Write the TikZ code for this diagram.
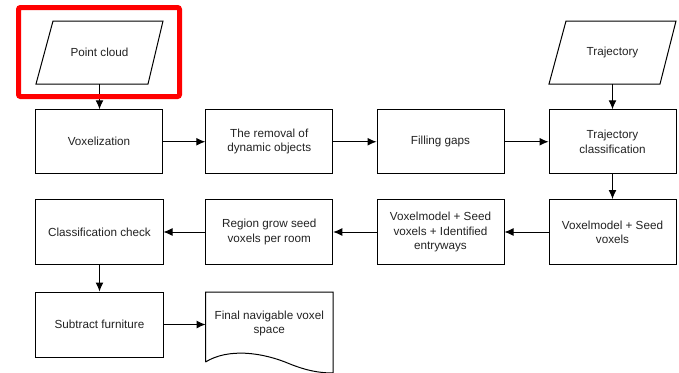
\documentclass[tikz,border=0pt]{standalone}
\usepackage{fontspec}
\setmainfont{Liberation Sans}
\usetikzlibrary{arrows.meta}
\definecolor{txt}{HTML}{222222}
\definecolor{hl}{HTML}{FF0000}
\tikzset{
  box/.style={draw, line width=1bp, minimum width=127bp, minimum height=64bp, inner sep=0pt, align=center, text=txt},
  lbl/.style={draw=none, minimum width=110bp, minimum height=63bp, inner sep=0pt, align=center, text=txt},
  shp/.style={draw, line width=1bp},
  conn/.style={line width=1bp, -{Latex[length=9bp,width=8bp]}},
}
\begin{document}
\begin{tikzpicture}[x=1bp, y=-1bp, font=\fontsize{11.7bp}{14.3bp}\selectfont]
\useasboundingbox (0,0) rectangle (679,372);
% input parallelograms
\draw[shp] (53,21) -- (163,21) -- (148,84) -- (36,84) -- cycle;
\node[lbl] (pc) at (99.5,52.5) {Point cloud};
\draw[shp] (566,21) -- (676,21) -- (660,84) -- (549,84) -- cycle;
\node[lbl] (traj) at (612.5,52.5) {Trajectory};
% row 1
\node[box] (vox) at (99,141.75) {Voxelization};
\node[box] (rem) at (269.25,141.75) {The removal of\\dynamic objects};
\node[box] (fill) at (440.5,141.75) {Filling gaps};
\node[box] (tcl) at (612.5,141.75) {Trajectory\\classification};
% row 2
\node[box, minimum height=65bp] (vs) at (612.5,232) {Voxelmodel + Seed\\voxels};
\node[box, minimum height=65bp] (vse) at (440.5,232) {Voxelmodel + Seed\\voxels + Identified\\entryways};
\node[box, minimum height=65bp] (rg) at (269.25,232) {Region grow seed\\voxels per room};
\node[box, minimum height=65bp] (cc) at (99.5,232) {Classification check};
% row 3
\node[box, minimum height=65bp] (sf) at (99.5,324.5) {Subtract furniture};
\node[lbl, minimum width=127bp, minimum height=65bp] (fin) at (269.25,324.5) {};
\draw[shp] (205.5,362) -- (205.5,292) -- (333,292) -- (333,373)
  .. controls (318,373) and (305,370) .. (290,364)
  .. controls (262,352) and (228,348) .. (205.5,362);
\node[text=txt, align=center] at (269.25,323.5) {Final navigable voxel\\space};
% connectors
\draw[conn] (pc.south) -- (pc.south |- vox.north);
\draw[conn] (vox) -- (rem);
\draw[conn] (rem) -- (fill);
\draw[conn] (fill) -- (tcl);
\draw[conn] (traj.south) -- (traj.south |- tcl.north);
\draw[conn] (tcl) -- (vs);
\draw[conn] (vs) -- (vse);
\draw[conn] (vse) -- (rg);
\draw[conn] (rg) -- (cc);
\draw[conn] (cc) -- (sf);
\draw[conn] (sf) -- (fin);
% highlight
\draw[hl, line width=5bp, rounded corners=2bp] (18.5,7.5) rectangle (179.5,96.5);
\end{tikzpicture}
\end{document}
